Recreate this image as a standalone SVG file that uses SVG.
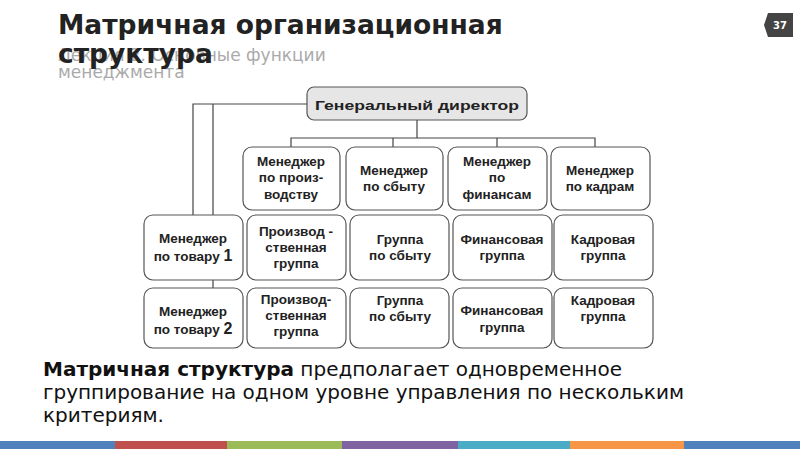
<svg xmlns="http://www.w3.org/2000/svg" width="800" height="450" viewBox="0 0 800 450">
<style>
.box{fill:#fff;stroke:#555;stroke-width:1.2}
.gd{fill:#e6e6e6;stroke:#555;stroke-width:1.2}
.t{font-family:"Liberation Sans",Arial,sans-serif;font-weight:bold;font-size:13.5px;fill:#222;text-anchor:middle}
.ln{stroke:#444;stroke-width:1.2;fill:none}
.title{font-family:"DejaVu Sans",sans-serif;font-weight:bold;font-size:26.5px;fill:#222}
.sub{font-family:"DejaVu Sans",sans-serif;font-size:17px;fill:#aaa}
.body{font-family:"DejaVu Sans",sans-serif;font-size:20px;fill:#111}
</style>
<rect width="800" height="450" fill="#fff"/>
<text class="sub" x="58" y="61">Лекция 2. Основные функции</text>
<text class="sub" x="58" y="78">менеджмента</text>
<text class="title" x="58" y="34">Матричная организационная</text>
<text class="title" x="58" y="63">структура</text>
<g id="badge">
<path d="M768 13 H793 V37 H768 L764 25 Z" fill="#444"/>
<text x="780" y="29" font-family="DejaVu Sans,sans-serif" font-weight="bold" font-size="10" fill="#fff" text-anchor="middle">37</text>
</g>
<g id="connectors">
<path class="ln" d="M417 120 V138 M291 147 V138 H595 V147 M393 138 V147 M497 138 V147"/>
<path class="ln" d="M307 104 H193 V215 M213 104 V215 M213 280 V288"/>
</g>
<g id="gen"><rect class="gd" x="307" y="87" width="220" height="33" rx="7"/><text class="t" x="417" y="110" font-size="17.5" textLength="204" lengthAdjust="spacingAndGlyphs">Генеральный директор</text></g>
<g id="m1"><rect class="box" x="243" y="147" width="97" height="63" rx="9"/><text class="t" x="291" y="166">Менеджер</text><text class="t" x="291" y="182">по произ-</text><text class="t" x="291" y="199">водству</text></g>
<g id="m2"><rect class="box" x="346" y="147" width="97" height="63" rx="9"/><text class="t" x="394" y="175">Менеджер</text><text class="t" x="394" y="191">по сбыту</text></g>
<g id="m3"><rect class="box" x="448" y="147" width="99" height="63" rx="9"/><text class="t" x="497" y="166">Менеджер</text><text class="t" x="497" y="182">по</text><text class="t" x="497" y="199">финансам</text></g>
<g id="m4"><rect class="box" x="551" y="147" width="99" height="63" rx="9"/><text class="t" x="600" y="175">Менеджер</text><text class="t" x="600" y="191">по кадрам</text></g>
<g id="p1"><rect class="box" x="144" y="215" width="99" height="65" rx="9"/><text class="t" x="193" y="243">Менеджер</text><text class="t" x="193" y="261">по товару <tspan font-size="16">1</tspan></text></g>
<g id="r1c1"><rect class="box" x="247" y="215" width="99" height="65" rx="9"/><text class="t" x="296" y="236">Производ -</text><text class="t" x="296" y="252">ственная</text><text class="t" x="296" y="268">группа</text></g>
<g id="r1c2"><rect class="box" x="350" y="215" width="99" height="65" rx="9"/><text class="t" x="400" y="244">Группа</text><text class="t" x="400" y="260">по сбыту</text></g>
<g id="r1c3"><rect class="box" x="453" y="215" width="99" height="65" rx="9"/><text class="t" x="502" y="244">Финансовая</text><text class="t" x="502" y="260">группа</text></g>
<g id="r1c4"><rect class="box" x="554" y="215" width="99" height="65" rx="9"/><text class="t" x="603" y="244">Кадровая</text><text class="t" x="603" y="260">группа</text></g>
<g id="p2"><rect class="box" x="144" y="288" width="99" height="60" rx="9"/><text class="t" x="193" y="316">Менеджер</text><text class="t" x="193" y="334">по товару <tspan font-size="16">2</tspan></text></g>
<g id="r2c1"><rect class="box" x="247" y="288" width="99" height="60" rx="9"/><text class="t" x="296" y="304">Производ-</text><text class="t" x="296" y="320">ственная</text><text class="t" x="296" y="336">группа</text></g>
<g id="r2c2"><rect class="box" x="350" y="288" width="99" height="60" rx="9"/><text class="t" x="400" y="305">Группа</text><text class="t" x="400" y="321">по сбыту</text></g>
<g id="r2c3"><rect class="box" x="453" y="288" width="99" height="60" rx="9"/><text class="t" x="502" y="315">Финансовая</text><text class="t" x="502" y="332">группа</text></g>
<g id="r2c4"><rect class="box" x="554" y="288" width="99" height="60" rx="9"/><text class="t" x="603" y="305">Кадровая</text><text class="t" x="603" y="321">группа</text></g>
<text class="body" x="43" y="376"><tspan font-weight="bold">Матричная структура</tspan> предполагает одновременное</text>
<text class="body" x="43" y="399">группирование на одном уровне управления по нескольким</text>
<text class="body" x="43" y="422">критериям.</text>
<g id="bar">
<rect x="0" y="441" width="115" height="8" fill="#4f81bd"/>
<rect x="115" y="441" width="112" height="8" fill="#c0504d"/>
<rect x="227" y="441" width="115" height="8" fill="#9bbb59"/>
<rect x="342" y="441" width="116" height="8" fill="#8064a2"/>
<rect x="458" y="441" width="112" height="8" fill="#4bacc6"/>
<rect x="570" y="441" width="114" height="8" fill="#f79646"/>
<rect x="684" y="441" width="116" height="8" fill="#4f81bd"/>
</g>
</svg>
